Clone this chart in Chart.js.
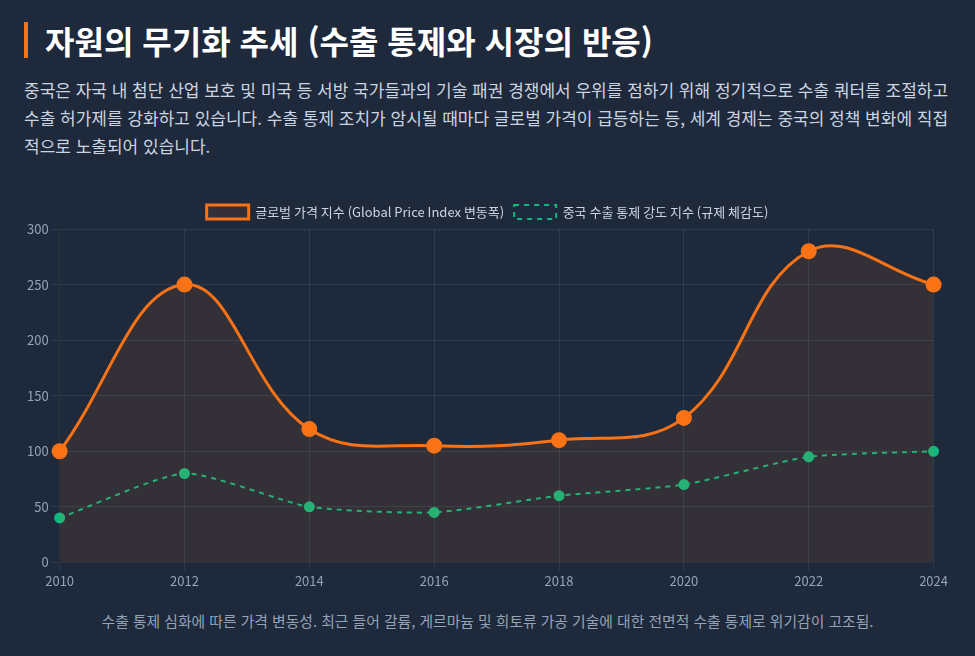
<!DOCTYPE html>
<html lang="ko">
<head>
<meta charset="utf-8">
<script src="https://cdn.jsdelivr.net/npm/chart.js@4"></script>
<style>
  html, body { margin: 0; padding: 0; background: #1e293b; }
  body { width: 975px; height: 656px; overflow: hidden; font-family: "Noto Sans CJK KR", "Noto Sans", sans-serif; }
  .wrap { padding: 22px 24px 0 24px; }
  h1 { margin: 0; padding-left: 17px; border-left: 4px solid #f97316; color: #ffffff; font-size: 32px; font-weight: 700; line-height: 36px; }
  .desc { margin: 18px 0 0 0; color: #cbd5e1; font-size: 17px; line-height: 28px; }
  .chart { position: relative; height: 397px; margin-top: 35px; }
  .note { margin-top: 18px; text-align: center; color: #94a3b8; font-size: 14.8px; }
</style>
</head>
<body>
<div class="wrap">
  <h1>자원의 무기화 추세 (수출 통제와 시장의 반응)</h1>
  <p class="desc">중국은 자국 내 첨단 산업 보호 및 미국 등 서방 국가들과의 기술 패권 경쟁에서 우위를 점하기 위해 정기적으로 수출 쿼터를 조절하고 수출 허가제를 강화하고 있습니다. 수출 통제 조치가 암시될 때마다 글로벌 가격이 급등하는 등, 세계 경제는 중국의 정책 변화에 직접적으로 노출되어 있습니다.</p>
  <div class="chart"><canvas id="trendChart"></canvas></div>
  <div class="note">수출 통제 심화에 따른 가격 변동성. 최근 들어 갈륨, 게르마늄 및 희토류 가공 기술에 대한 전면적 수출 통제로 위기감이 고조됨.</div>
</div>
<script>
var years = ['2010', '2012', '2014', '2016', '2018', '2020', '2022', '2024'];
var priceIndex = [100, 250, 120, 105, 110, 130, 280, 250];
var controlIndex = [40, 80, 50, 45, 60, 70, 95, 100];

Chart.defaults.font.family = "'Noto Sans CJK KR', 'Noto Sans', sans-serif";
Chart.defaults.color = '#94a3b8';

var ctx = document.getElementById('trendChart');
var trendChart = new Chart(ctx, {
  type: 'line',
  data: {
    labels: years,
    datasets: [
      {
        label: '글로벌 가격 지수 (Global Price Index 변동폭)',
        data: priceIndex,
        borderColor: '#f97316',
        backgroundColor: 'rgba(249, 115, 22, 0.1)',
        borderWidth: 3,
        fill: true,
        tension: 0.4,
        pointRadius: 6.5,
        pointBackgroundColor: '#f97316',
        pointBorderColor: '#f97316'
      },
      {
        label: '중국 수출 통제 강도 지수 (규제 체감도)',
        data: controlIndex,
        borderColor: '#10b981',
        backgroundColor: 'transparent',
        borderWidth: 2,
        borderDash: [5, 5],
        fill: false,
        tension: 0.2,
        pointRadius: 4.5,
        pointBackgroundColor: '#10b981',
        pointBorderColor: '#10b981'
      }
    ]
  },
  options: {
    responsive: true,
    maintainAspectRatio: false,
    animation: false,
    plugins: {
      legend: {
        position: 'top',
        labels: {
          color: '#cbd5e1',
          boxWidth: 42,
          boxHeight: 14,
          font: { size: 13 }
        }
      },
      tooltip: { enabled: false }
    },
    scales: {
      x: {
        grid: { color: 'rgba(148, 163, 184, 0.15)' },
        ticks: { color: '#94a3b8', font: { size: 13 } }
      },
      y: {
        min: 0,
        max: 300,
        grid: { color: 'rgba(148, 163, 184, 0.15)' },
        ticks: { color: '#94a3b8', stepSize: 50, font: { size: 13 } }
      }
    }
  }
});
</script>
</body>
</html>
